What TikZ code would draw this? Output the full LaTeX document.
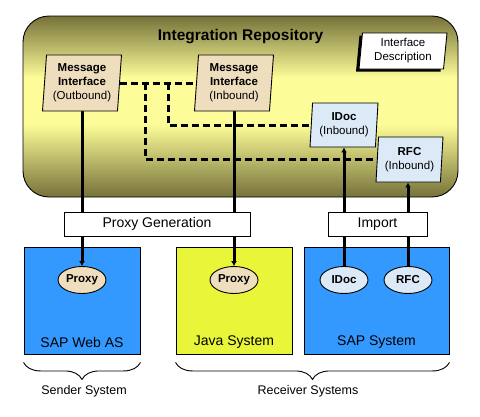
\documentclass[tikz,border=0pt]{standalone}
\usepackage{fontspec}
\setmainfont{Liberation Sans}
\usetikzlibrary{shapes.geometric,arrows.meta,decorations.pathreplacing,shadows}
\definecolor{repoDark}{RGB}{118,114,58}
\definecolor{repoLight}{RGB}{252,252,152}
\definecolor{parchment}{RGB}{238,222,190}
\definecolor{iceblue}{RGB}{220,234,247}
\definecolor{sapblue}{RGB}{51,153,255}
\definecolor{javayel}{RGB}{232,245,56}
\pgfdeclareverticalshading{repo}{100bp}{color(0bp)=(repoDark); color(25bp)=(repoDark); color(45bp)=(repoLight); color(58bp)=(repoLight); color(75bp)=(repoDark); color(100bp)=(repoDark)}
\pgfdeclarelayer{back}
\pgfdeclarelayer{lines}
\pgfsetlayers{back,lines,main}
\begin{document}
\begin{tikzpicture}[x=1pt,y=-1pt,
  pg/.style={trapezium, trapezium left angle=84, trapezium right angle=96,
    trapezium stretches body, draw, line width=0.9pt, inner sep=0pt, align=center,
    font=\fontsize{11.5}{14}\selectfont},
  parch/.style={fill=parchment},
  icebl/.style={fill=iceblue},
  dashline/.style={line width=3pt, dash pattern=on 7pt off 4pt},
  conn/.style={line width=3pt},
  tip/.style={-{Latex[length=5pt,width=6pt]}},
  sysbox/.style={draw, line width=0.9pt, minimum height=107, inner sep=0pt},
  systxt/.style={font=\fontsize{14}{16}\selectfont, inner sep=0pt},
  genbox/.style={draw, fill=white, line width=0.9pt, minimum height=24, inner sep=0pt,
    font=\fontsize{14}{16}\selectfont},
  oval/.style={ellipse, draw, line width=0.9pt, minimum width=48, minimum height=27,
    inner sep=0pt, font=\bfseries\fontsize{11.5}{14}\selectfont},
  brc/.style={decorate, decoration={brace, amplitude=17pt, mirror}, line width=0.9pt},
  brtxt/.style={font=\fontsize{12.5}{15}\selectfont, inner sep=0pt}]
\useasboundingbox (0,0) rectangle (480,416);

\begin{pgfonlayer}{back}
\fill[white] (0,0) rectangle (480,416);
\node[draw, line width=0.9pt, rounded corners=26pt, shade, shading=repo,
  minimum width=435, minimum height=181, inner sep=0pt] (repo) at (240.5,106.5) {};
\node[sysbox, fill=sapblue, minimum width=116] (web) at (82,300.5) {};
\node[sysbox, fill=javayel, minimum width=116] (java) at (234,300.5) {};
\node[sysbox, fill=sapblue, minimum width=145] (sapsys) at (376.5,300.5) {};
\end{pgfonlayer}
\node[font=\bfseries\fontsize{15.5}{18}\selectfont] (title) at (240.5,37) {Integration Repository};

\node[pg, parch, minimum width=79, minimum height=56] (mo) at (82,83)
  {\textbf{Message}\\\textbf{Interface}\\(Outbound)};
\node[pg, parch, minimum width=79, minimum height=56] (mi) at (234,83)
  {\textbf{Message}\\\textbf{Interface}\\(Inbound)};
\node[pg, fill=white, trapezium left angle=82, trapezium right angle=98,
  minimum width=88, minimum height=36,
  drop shadow={shadow xshift=-3pt, shadow yshift=-2.5pt, opacity=1, fill=black}] (ifd) at (403,51)
  {Interface\\Description};
\node[pg, icebl, minimum width=68, minimum height=44] (idoc) at (344,125)
  {\textbf{IDoc}\\(Inbound)};
\node[pg, icebl, minimum width=67, minimum height=45] (rfc) at (409.5,159.5)
  {\textbf{RFC}\\(Inbound)};

\node[systxt] (webt) at ([yshift=12]web.south) {SAP Web AS};
\node[systxt] (javat) at ([yshift=12]java.south) {Java System};
\node[systxt] (sapt) at ([yshift=12]sapsys.south) {SAP System};

\node[oval, fill=parchment] (p1) at (82,280) {Proxy};
\node[oval, fill=parchment] (p2) at (234,280) {Proxy};
\node[oval, fill=iceblue] (ie) at (344,280) {IDoc};
\node[oval, fill=iceblue] (re) at (408,280) {RFC};

\node[genbox, minimum width=186] (pgen) at (157,224) {Proxy Generation};
\node[genbox, minimum width=99] (imp) at (377.5,224) {Import};

\coordinate (b1) at (145,83);
\coordinate (b2) at (168,83);

\begin{pgfonlayer}{lines}
\draw[dashline] (mo.east) -- (mi.west);
\draw[dashline] (b1) |- (rfc.west);
\draw[dashline] (b2) |- (idoc.west);
\draw[conn, tip] (mo.south -| p1) -- (p1.north);
\draw[conn, tip] (mi.south -| p2) -- (p2.north);
\draw[conn, tip] (ie.north) -- (ie.north |- idoc.south);
\draw[conn, tip] (re.north) -- (re.north |- rfc.south);
\end{pgfonlayer}

\draw[brc] ([yshift=-8]web.south west) -- ([yshift=-8]web.south east);
\draw[brc] ([yshift=-8]java.south west) -- ([yshift=-8]sapsys.south east);
\node[brtxt] (sendl) at (84,391) {Sender System};
\node[brtxt] (recvl) at (308,391) {Receiver Systems};
\end{tikzpicture}
\end{document}
